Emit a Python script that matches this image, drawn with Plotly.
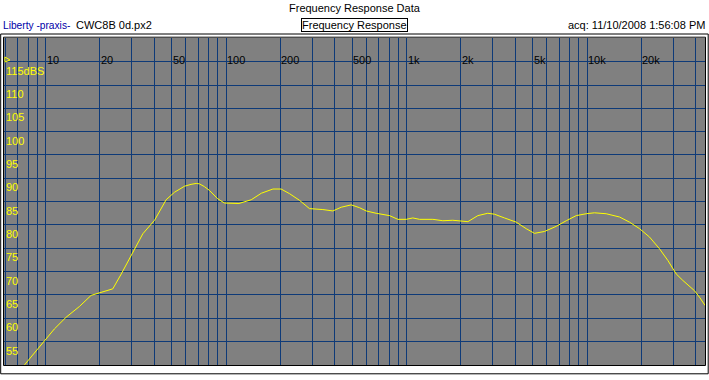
import plotly.graph_objects as go
import numpy as np

# ---- data ----
freq_hz = [7.65, 8.88, 9.87, 11.2, 13.0, 15.4, 17.9, 20, 23.6, 26.3, 29.2, 31.8, 34.6, 40.2,
           43.7, 46.6, 51.8, 58.9, 64, 68.4, 71.3, 76, 81, 90, 98, 108, 118, 138, 157, 182,
           202, 225, 255, 290, 320, 344, 391, 435, 494, 549, 598, 679, 805, 896, 996, 1084,
           1180, 1400, 1590, 1806, 2188, 2485, 2821, 3073, 3490, 4052, 4603, 5118, 5815,
           6750, 7674, 8717, 9900, 11000, 12770, 15140, 17200, 19540, 22200, 25200, 28030,
           29280, 31200, 33960, 39400, 42000, 45170]
spl_db = [50.0, 53.0, 55.2, 57.7, 60.2, 62.5, 64.9, 65.4, 66.3, 69.5, 72.7, 75.6, 78.1, 81.0,
          83.5, 85.4, 87.0, 88.3, 88.7, 88.9, 88.8, 88.2, 87.4, 85.6, 84.7, 84.6, 84.6, 85.4,
          86.8, 87.7, 87.7, 86.7, 85.3, 83.5, 83.4, 83.3, 83.0, 83.8, 84.3, 83.7, 83.0, 82.5,
          82.0, 81.2, 81.2, 81.5, 81.2, 81.2, 80.9, 81.0, 80.7, 82.0, 82.5, 82.3, 81.5, 80.6,
          79.2, 78.2, 78.6, 79.7, 80.9, 82.0, 82.4, 82.6, 82.4, 81.7, 80.6, 79.2, 77.4, 74.9,
          72.4, 71.3, 69.5, 68.1, 65.9, 64.5, 62.7]

x_grid = [6, 7, 8, 9, 10, 20, 30, 40, 50, 60, 70, 80, 90, 100, 200, 300, 400, 500, 600, 700,
          800, 900, 1000, 2000, 3000, 4000, 5000, 6000, 7000, 8000, 9000, 10000, 20000, 30000,
          40000]
x_label_vals = [10, 20, 50, 100, 200, 500, 1000, 2000, 5000, 10000, 20000]
x_label_text = ["10", "20", "50", "100", "200", "500", "1k", "2k", "5k", "10k", "20k"]
y_grid = [55, 60, 65, 70, 75, 80, 85, 90, 95, 100, 105, 110, 115, 120]
y_label_vals = [115, 110, 105, 100, 95, 90, 85, 80, 75, 70, 65, 60, 55]
y_label_text = ["115dBS", "110", "105", "100", "95", "90", "85", "80", "75", "70", "65", "60", "55"]

# ---- layout geometry (pixels) ----
W, H = 709, 380
L, R, T, B = 4, 4, 38, 15
PW, PH = W - L - R, H - T - B
def px(x): return (x - L) / PW
def py(y): return (H - B - y) / PH

FONT = "Liberation Sans, Arial, sans-serif"
GRID = "#0e3a78"

fig = go.Figure()
fig.add_trace(go.Scatter(x=freq_hz, y=spl_db, mode="lines",
                         line=dict(color="#ffff00", width=1), hoverinfo="skip"))

ann = []
for v, t in zip(x_label_vals, x_label_text):
    ann.append(dict(x=np.log10(v), y=py(59.5), xref="x", yref="paper", text=t,
                    showarrow=False, xanchor="left", yanchor="middle", xshift=-1,
                    font=dict(family=FONT, size=11, color="#000000")))
for v, t in zip(y_label_vals, y_label_text):
    ann.append(dict(x=0, y=v, xref="paper", yref="y", text=t, showarrow=False,
                    xanchor="left", yanchor="top", yshift=-1,
                    font=dict(family=FONT, size=11, color="#ffff00")))

ann += [
    dict(x=px(354.5), y=py(8), xref="paper", yref="paper", text="Frequency Response Data",
         showarrow=False, xanchor="center", yanchor="middle",
         font=dict(family=FONT, size=11, color="#000000")),
    dict(x=px(0.5), y=py(25), xref="paper", yref="paper", text="Liberty -praxis-",
         showarrow=False, xanchor="left", yanchor="middle",
         font=dict(family=FONT, size=10.2, color="#0000a8")),
    dict(x=px(74), y=py(25), xref="paper", yref="paper", text="CWC8B 0d.px2",
         showarrow=False, xanchor="left", yanchor="middle",
         font=dict(family=FONT, size=11, color="#000000")),
    dict(x=px(354.5), y=py(25), xref="paper", yref="paper", text="Frequency Response",
         showarrow=False, xanchor="center", yanchor="middle", bordercolor="#000000",
         borderwidth=1, borderpad=0,
         font=dict(family=FONT, size=11, color="#000000")),
    dict(x=px(707), y=py(25), xref="paper", yref="paper", text="acq: 11/10/2008 1:56:08 PM",
         showarrow=False, xanchor="right", yanchor="middle",
         font=dict(family=FONT, size=11, color="#000000")),
]

shapes = [
    dict(type="rect", xref="paper", yref="paper", x0=px(3.5), x1=px(705.5), y0=py(365.5),
         y1=py(37.2), line=dict(color="#000000", width=1)),
    dict(type="rect", xref="paper", yref="paper", x0=px(0.7), x1=px(708.2), y0=py(373.8),
         y1=py(34), line=dict(color="#000000", width=1)),
    dict(type="path", xref="paper", yref="paper",
         path=f"M {px(5)} {py(57)} L {px(10)} {py(60)} L {px(5)} {py(62)} Z",
         line=dict(color="#ffff00", width=1)),
]

fig.update_layout(
    width=W, height=H, margin=dict(l=L, r=R, t=T, b=B),
    paper_bgcolor="#ffffff", plot_bgcolor="#808080", showlegend=False,
    xaxis=dict(type="log", range=[0.7701, 4.6537], tickvals=x_grid, showticklabels=False,
               showgrid=True, gridcolor=GRID, gridwidth=1, zeroline=False, ticks="",
               showline=False),
    yaxis=dict(range=[49.97, 120.08], tickvals=y_grid, showticklabels=False,
               showgrid=True, gridcolor=GRID, gridwidth=1, zeroline=False, ticks="",
               showline=False),
    annotations=ann, shapes=shapes,
)
fig.write_html("out.html", config={"displayModeBar": False},
               post_script="document.body.style.margin='0';document.body.style.overflow='hidden';")
